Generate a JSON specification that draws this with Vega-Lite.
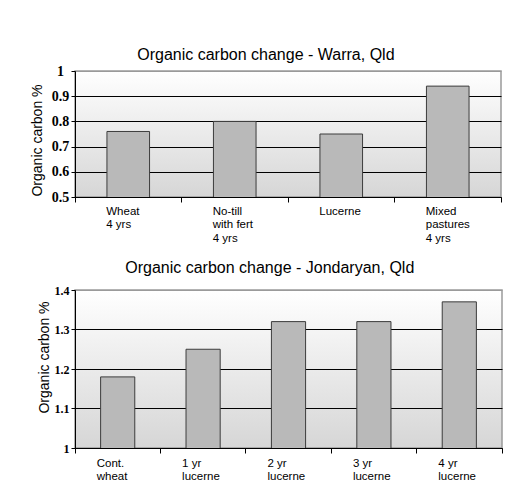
{
  "$schema": "https://vega.github.io/schema/vega-lite/v6.json",
  "background": "white",
  "padding": {"left": 29, "top": 46, "right": 10, "bottom": 5},
  "bounds": "flush",
  "spacing": 93,
  "config": {
    "font": "Liberation Sans",
    "view": {
      "stroke": "#9a9a9a",
      "strokeWidth": 1.5,
      "fill": {
        "gradient": "linear",
        "x1": 0, "y1": 0, "x2": 0, "y2": 1,
        "stops": [
          {"offset": 0, "color": "#ffffff"},
          {"offset": 1, "color": "#d6d6d6"}
        ]
      }
    },
    "title": {"fontSize": 16, "fontWeight": "normal", "font": "Liberation Sans", "color": "black", "frame": "bounds", "anchor": "middle", "baseline": "alphabetic"},
    "axis": {"domainColor": "black", "tickColor": "black", "labelColor": "black", "titleColor": "black", "titleFontWeight": "normal", "titleFont": "Liberation Sans", "labelOverlap": false}
  },
  "vconcat": [
    {
      "width": 426,
      "height": 126,
      "title": {"text": "Organic carbon change - Warra, Qld", "offset": 1},
      "data": {
        "values": [
          {"treatment": "Wheat\n4 yrs", "oc": 0.76},
          {"treatment": "No-till\nwith fert\n4 yrs", "oc": 0.80},
          {"treatment": "Lucerne", "oc": 0.75},
          {"treatment": "Mixed\npastures\n4 yrs", "oc": 0.94}
        ]
      },
      "mark": {"type": "bar", "fill": "#b9b9b9", "stroke": "#3c3c3c", "strokeWidth": 1, "width": {"band": 0.4}, "clip": true},
      "encoding": {
        "x": {
          "field": "treatment", "type": "nominal", "sort": null,
          "scale": {"paddingInner": 0, "paddingOuter": 0},
          "axis": {
            "title": null, "labelAngle": 0, "bandPosition": 1, "tickExtra": true,
            "tickSize": 5, "grid": false, "labelOverlap": false,
            "labelExpr": "split(datum.label, '\\n')",
            "labelAlign": "left", "labelOffset": -22, "labelBaseline": "top",
            "labelPadding": 3, "labelFontSize": 11.5, "labelLineHeight": 13.5,
            "labelFont": "Liberation Sans"
          }
        },
        "y": {
          "field": "oc", "type": "quantitative",
          "scale": {"domain": [0.5, 1], "nice": false, "zero": false},
          "axis": {
            "title": "Organic carbon %", "titleFontSize": 14, "titleFontWeight": "normal", "titlePadding": 7, "titleY": 69,
            "values": [0.5, 0.6, 0.7, 0.8, 0.9, 1],
            "labelExpr": "format(datum.value, '.1~f')",
            "labelFont": "Liberation Serif", "labelFontWeight": "bold", "labelFontSize": 14,
            "labelAlign": "center", "labelPadding": 11, "tickSize": 4,
            "grid": true, "gridWidth": 1,
            "gridColor": {"condition": {"test": "datum.value >= 1", "value": "#9a9a9a"}, "value": "black"}
          }
        }
      }
    },
    {
      "width": 427,
      "height": 158,
      "title": {"text": "Organic carbon change - Jondaryan, Qld", "offset": 8},
      "data": {
        "values": [
          {"treatment": "Cont.\nwheat", "oc": 1.18},
          {"treatment": "1 yr\nlucerne", "oc": 1.25},
          {"treatment": "2 yr\nlucerne", "oc": 1.32},
          {"treatment": "3 yr\nlucerne", "oc": 1.32},
          {"treatment": "4 yr\nlucerne", "oc": 1.37}
        ]
      },
      "mark": {"type": "bar", "fill": "#b9b9b9", "stroke": "#3c3c3c", "strokeWidth": 1, "width": {"band": 0.4}, "clip": true},
      "encoding": {
        "x": {
          "field": "treatment", "type": "nominal", "sort": null,
          "scale": {"paddingInner": 0, "paddingOuter": 0},
          "axis": {
            "title": null, "labelAngle": 0, "bandPosition": 1, "tickExtra": true,
            "tickSize": 5, "grid": false, "labelOverlap": false,
            "labelExpr": "split(datum.label, '\\n')",
            "labelAlign": "left", "labelOffset": -21, "labelBaseline": "top",
            "labelPadding": 4, "labelFontSize": 11.5, "labelLineHeight": 13.5,
            "labelFont": "Liberation Sans",
            "encode": {"labels": {"update": {"dy": {"signal": "datum.index > 0.7 && datum.index < 0.8 ? 5 : 0"}}}}
          }
        },
        "y": {
          "field": "oc", "type": "quantitative",
          "scale": {"domain": [1, 1.4], "nice": false, "zero": false},
          "axis": {
            "title": "Organic carbon %", "titleFontSize": 14, "titleFontWeight": "normal", "titlePadding": 3, "titleY": 67,
            "values": [1, 1.1, 1.2, 1.3, 1.4],
            "labelExpr": "format(datum.value, '.1~f')",
            "labelFont": "Liberation Serif", "labelFontWeight": "bold", "labelFontSize": 12,
            "labelPadding": 2, "tickSize": 4,
            "grid": true, "gridWidth": 1,
            "gridColor": {"condition": {"test": "datum.value >= 1.4", "value": "#9a9a9a"}, "value": "black"}
          }
        }
      }
    }
  ]
}
